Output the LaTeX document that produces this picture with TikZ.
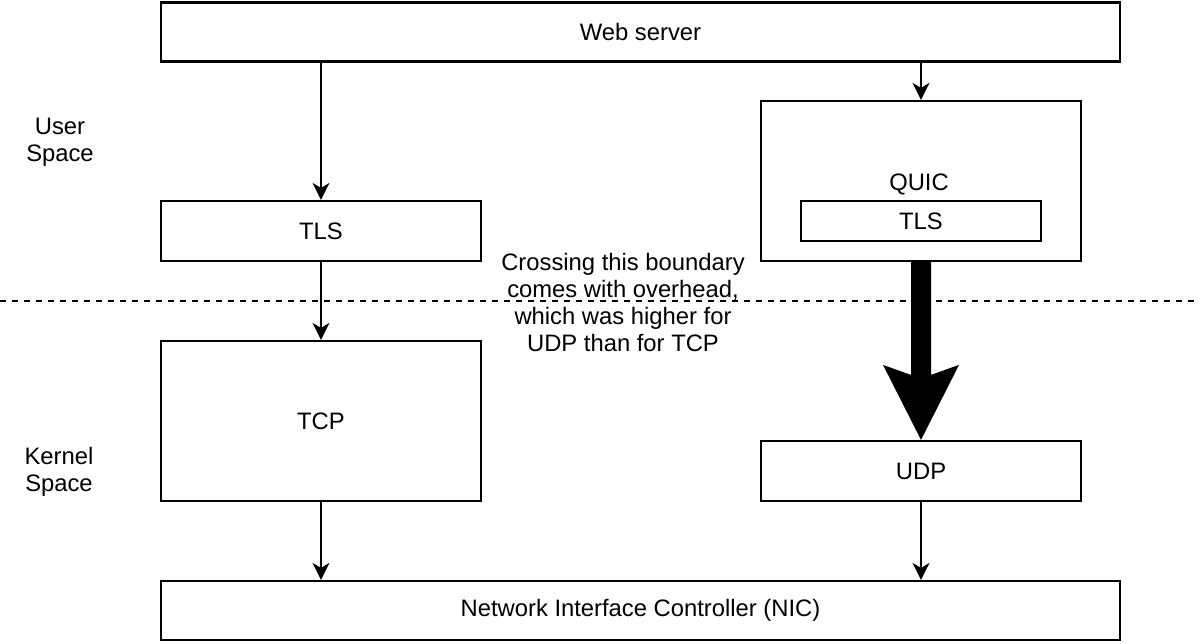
\documentclass[tikz,border=0pt]{standalone}
\usepackage{fontspec}
\setmainfont{Liberation Sans}
\usetikzlibrary{arrows.meta,calc}
\begin{document}
\begin{tikzpicture}[x=1pt,y=-1pt,
  box/.style={draw=black, line width=2.2pt, fill=white, inner sep=0pt, align=center,
    font=\fontsize{23.8}{27}\selectfont},
  lbl/.style={align=center, inner sep=0pt, font=\fontsize{23.8}{27}\selectfont},
  arr/.style={line width=1.7pt, -{Stealth[length=17pt,width=17pt,inset=5pt]}},
]
\useasboundingbox (0,0) rectangle (1204,644);
\fill[white] (0,0) rectangle (1204,644);
% dashed boundary
\coordinate (dl) at (0,300.5);
\coordinate (dr) at (1198,300.5);
\draw[line width=2pt, dash pattern=on 6pt off 6pt] (dl) -- (dr);
% boxes
\node[box, minimum width=959pt, minimum height=59pt] (web) at (640.5,32) {Web server};
\node[box, minimum width=320pt, minimum height=60pt] (tls1) at (321,231) {TLS};
\node[box, minimum width=320pt, minimum height=160pt] (tcp) at (321,421) {TCP};
\node[box, minimum width=959pt, minimum height=59pt] (nic) at (640.5,610.5) {Network Interface Controller (NIC)};
\node[box, minimum width=320pt, minimum height=160pt] (quic) at (921,181) {};
\node[lbl] (quiclbl) at (919,184) {QUIC};
\node[box, minimum width=240pt, minimum height=40pt] (tls2) at (921,221) {TLS};
\node[box, minimum width=320pt, minimum height=60pt] (udp) at (921,471) {UDP};
% side labels
\node[lbl] (user) at (60,142) {User\\Space};
\node[lbl] (kernel) at (59,472) {Kernel\\Space};
\node[lbl] (note) at (623,302) {Crossing this boundary\\comes with overhead,\\which was higher for\\UDP than for TCP};
% arrows
\draw[arr] (web.south -| tls1.north) -- (tls1.north);
\draw[arr] (tls1.south) -- (tcp.north);
\draw[arr] (tcp.south) -- (tcp.south |- nic.north);
\draw[arr] (web.south -| quic.north) -- (quic.north);
\draw[arr] (udp.south) -- (udp.south |- nic.north);
% thick arrow QUIC -> UDP
\fill[black] ([xshift=-10pt]quic.south) -- ([shift={(-10,-65)}]udp.north)
  -- ([shift={(-38,-75)}]udp.north) -- (udp.north)
  -- ([shift={(38,-75)}]udp.north) -- ([shift={(10,-65)}]udp.north)
  -- ([xshift=10pt]quic.south) -- cycle;
\end{tikzpicture}
\end{document}
